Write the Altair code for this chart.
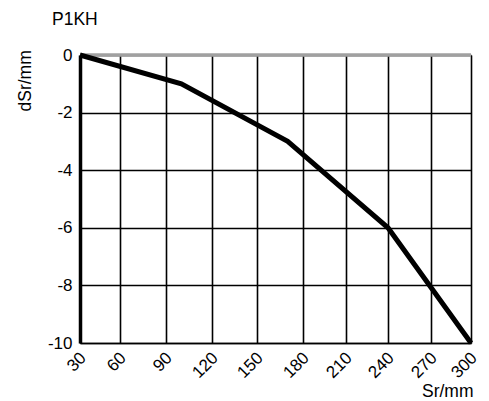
import altair as alt
import pandas as pd

# data
sr_values = [30, 100, 170, 240, 300]
dsr_values = [0, -1, -3, -6, -10]
ref_sr = [30, 300]
ref_dsr = [0, 0]
x_ticks = [30, 60, 90, 120, 150, 180, 210, 240, 270, 300]
y_ticks = [0, -2, -4, -6, -8, -10]
x_tick_px = [0, 40, 86, 132, 177, 223, 266, 308, 351, 391]

main = pd.DataFrame({"Sr": sr_values, "dSr": dsr_values})
ref = pd.DataFrame({"Sr": ref_sr, "dSr": ref_dsr})

FONT = "Liberation Sans"

xscale = alt.Scale(domain=x_ticks, range=x_tick_px, nice=False, zero=False)
yscale = alt.Scale(domain=[-10, 0], nice=False, zero=False)

xaxis = alt.Axis(
    values=x_ticks, title="Sr/mm", labelAngle=315, labelAlign="right",
    labelBaseline="middle", labelPadding=12, labelOffset=3, ticks=False,
    labelExpr="'' + datum.value",
    grid=True, gridColor="black", gridWidth=1.6, gridOpacity=1,
    domainColor="black", domainWidth=1.6,
    labelFont=FONT, labelFontSize=17, labelColor="black",
    titleFont=FONT, titleFontSize=17.5, titleFontWeight="normal", titleColor="black",
    titleAlign="right", titleX=393, titleY=53, titleBaseline="alphabetic",
)
yaxis = alt.Axis(
    values=y_ticks, title="dSr/mm", ticks=False, labelPadding=8,
    labelExpr="'' + datum.value",
    grid=True, gridColor="black", gridWidth=1.6, gridOpacity=1,
    domainColor="black", domainWidth=3.5,
    labelFont=FONT, labelFontSize=17, labelColor="black",
    titleFont=FONT, titleFontSize=17.5, titleFontWeight="normal", titleColor="black",
    titleAngle=270, titleAlign="left", titleX=-50, titleY=56, titleBaseline="alphabetic",
)

ref_line = alt.Chart(ref).mark_line(color="#a0a0a0", strokeWidth=3.5).encode(
    x=alt.X("Sr:Q", scale=xscale, axis=xaxis),
    y=alt.Y("dSr:Q", scale=yscale, axis=yaxis),
)
main_line = alt.Chart(main).mark_line(color="black", strokeWidth=5, strokeJoin="miter").encode(
    x=alt.X("Sr:Q", scale=xscale),
    y=alt.Y("dSr:Q", scale=yscale),
)

chart = alt.layer(ref_line, main_line).properties(
    width=391, height=288,
    title=alt.TitleParams("P1KH", anchor="start", frame="group", dx=-28, offset=3,
                          baseline="alphabetic", font=FONT, fontSize=17.5,
                          fontWeight="normal", color="black"),
    autosize=alt.AutoSizeParams(type="none"),
    padding={"left": 72, "top": 47, "right": 10, "bottom": 56},
).configure_view(stroke=None).configure(background="white")

chart.save("out.html", embed_options={"renderer": "svg", "actions": False})
